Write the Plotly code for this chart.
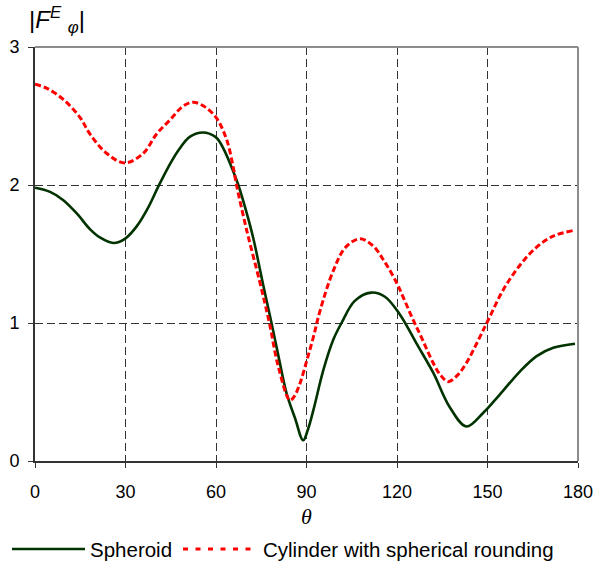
import plotly.graph_objects as go

# ---- data ----
theta_spheroid = [0, 5, 9.4, 14, 18.2, 21.5, 26, 29.8, 33.7, 37.6, 40.9, 44.2, 47.5, 51.4, 55.8,
                  59.7, 61.3, 63, 65.7, 67.4, 70, 72.4, 75.7, 78.4, 80.7, 83.4, 86.2, 88.9, 90.5,
                  92.3, 95.6, 98.9, 101.6, 106, 111.4, 116, 121, 126.5, 132, 137.5, 143, 148.6,
                  152, 155.2, 160.8, 166.3, 171.8, 179]
spheroid = [1.98, 1.95, 1.89, 1.79, 1.68, 1.62, 1.58, 1.61, 1.70, 1.84, 1.99, 2.13, 2.25, 2.35,
            2.38, 2.35, 2.31, 2.24, 2.10, 2.00, 1.81, 1.61, 1.27, 1.00, 0.76, 0.49, 0.31, 0.15,
            0.23, 0.37, 0.66, 0.88, 1.00, 1.16, 1.22, 1.19, 1.06, 0.85, 0.64, 0.39, 0.25, 0.35,
            0.43, 0.51, 0.65, 0.76, 0.82, 0.85]

theta_cylinder = [0, 4, 9.4, 14.9, 18.2, 23.7, 29.8, 35.9, 40.3, 44.7, 49, 52.4, 56, 60, 63.5,
                  65.7, 66.8, 70.2, 74.6, 77.7, 80.7, 84.5, 86, 87.8, 90, 92.3, 94.5, 98.9, 103,
                  107.7, 112, 116, 119.9, 122, 125.4, 127.6, 132, 134.5, 137, 140, 143, 147.5,
                  150.2, 155.2, 160.8, 166.3, 171.8, 178.4]
cylinder = [2.73, 2.70, 2.62, 2.49, 2.37, 2.23, 2.16, 2.23, 2.37, 2.47, 2.57, 2.60, 2.57, 2.49,
            2.33, 2.13, 2.00, 1.67, 1.29, 1.00, 0.68, 0.44, 0.47, 0.56, 0.72, 0.90, 1.09, 1.38,
            1.55, 1.61, 1.56, 1.44, 1.29, 1.19, 1.02, 0.92, 0.71, 0.62, 0.575, 0.62, 0.71, 0.90,
            1.02, 1.24, 1.42, 1.55, 1.63, 1.67]

x_ticks = [0, 30, 60, 90, 120, 150, 180]
y_ticks = [0, 1, 2, 3]
series_names = ["Spheroid", "Cylinder with spherical rounding"]

GREEN = "#003300"
RED = "#ff0000"
FONT = "Liberation Sans, Arial, sans-serif"

fig = go.Figure()
fig.add_trace(go.Scatter(x=theta_spheroid, y=spheroid, mode="lines", name=series_names[0],
                         line=dict(color=GREEN, width=2.6, shape="spline", smoothing=1.0)))
fig.add_trace(go.Scatter(x=theta_cylinder, y=cylinder, mode="lines", name=series_names[1],
                         line=dict(color=RED, width=3, dash="6px,3px", shape="spline", smoothing=1.0)))

W, H = 596, 564
L, T = 35, 47
R = W - 578
B = H - 461
pw, ph = W - L - R, H - T - B

def px(xp):
    return (xp - L) / pw

def py(yp):
    return (H - B - yp) / ph

fig.update_layout(
    width=W, height=H,
    margin=dict(l=L, r=R, t=T, b=B, pad=0, autoexpand=False),
    paper_bgcolor="white", plot_bgcolor="white",
    showlegend=False,
    font=dict(family=FONT, size=18, color="black"),
    xaxis=dict(range=[0, 180], tickvals=x_ticks, ticks="outside", ticklen=5, tickwidth=1,
               tickcolor="#333", showline=True, linecolor="#333", linewidth=2,
               showgrid=True, gridcolor="#333", gridwidth=1, griddash="8px,4px",
               zeroline=False, tickfont=dict(size=18), automargin=False, ticklabelstandoff=8),
    yaxis=dict(range=[0, 3], tickvals=y_ticks, ticks="outside", ticklen=5, tickwidth=1,
               tickcolor="#333", showline=True, linecolor="#333", linewidth=2,
               showgrid=True, gridcolor="#333", gridwidth=1, griddash="8px,4px",
               zeroline=False, tickfont=dict(size=18), automargin=False, ticklabelstandoff=5),
)

# top and right borders (gray)
fig.add_shape(type="line", xref="paper", yref="paper", x0=0, x1=1, y0=1, y1=1,
              line=dict(color="#8c8c8c", width=2))
fig.add_shape(type="line", xref="paper", yref="paper", x0=1, x1=1, y0=0, y1=1,
              line=dict(color="#8c8c8c", width=2))

# axis titles
fig.add_annotation(xref="paper", yref="paper", x=px(27), y=py(20), xanchor="left", yanchor="middle",
                   text="|<i>F</i><sup><i>E</i></sup> <sub><i>φ</i></sub>|", showarrow=False,
                   font=dict(family=FONT, size=24, color="black"))
fig.add_annotation(xref="paper", yref="paper", x=px(306), y=py(516), xanchor="center", yanchor="middle",
                   text="<i>θ</i>", showarrow=False,
                   font=dict(family="Liberation Serif, Times New Roman, serif", size=22, color="black"))

# legend (drawn manually)
leg_y = py(549)
fig.add_shape(type="line", xref="paper", yref="paper", x0=px(12), x1=px(85), y0=leg_y, y1=leg_y,
              line=dict(color=GREEN, width=2.6))
fig.add_annotation(xref="paper", yref="paper", x=px(88), y=leg_y, xanchor="left", yanchor="middle",
                   text=series_names[0], showarrow=False, font=dict(family=FONT, size=20.5, color="black"))
fig.add_shape(type="line", xref="paper", yref="paper", x0=px(183), x1=px(258), y0=leg_y, y1=leg_y,
              line=dict(color=RED, width=3, dash="5px,7.5px"))
fig.add_annotation(xref="paper", yref="paper", x=px(261), y=leg_y, xanchor="left", yanchor="middle",
                   text=series_names[1], showarrow=False, font=dict(family=FONT, size=20.5, color="black"))

# remove the default page margin so the figure fills the window exactly
fig.write_html("out.html", config={"displayModeBar": False},
               post_script="document.body.style.margin='0';document.body.style.overflow='hidden';")
